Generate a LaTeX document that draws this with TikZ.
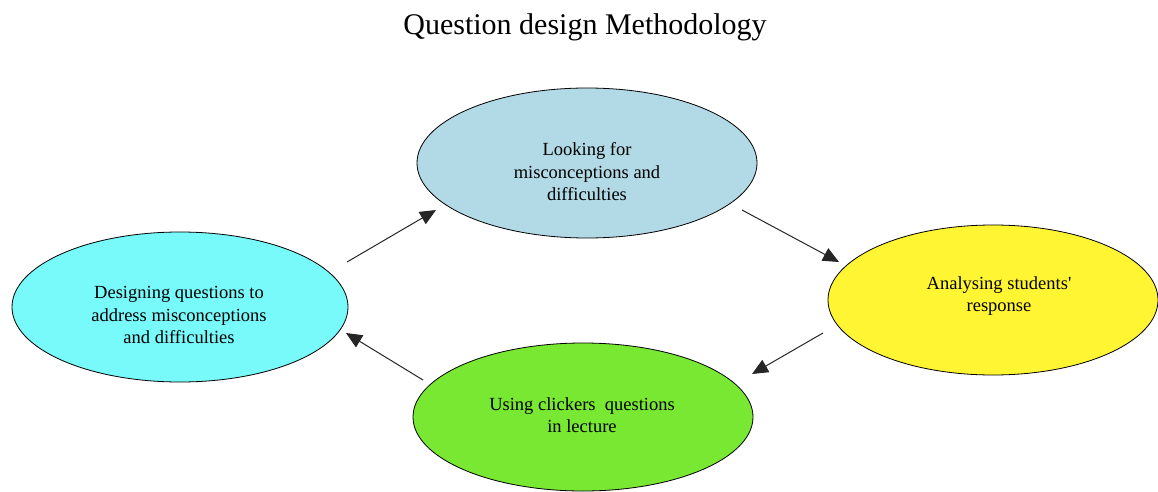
\documentclass[tikz,border=0pt]{standalone}
\usepackage{fontspec}
\setmainfont{Liberation Serif}
\usetikzlibrary{shapes.geometric,arrows.meta}
\definecolor{cLook}{RGB}{178,218,230}
\definecolor{cAnal}{RGB}{255,245,50}
\definecolor{cDes}{RGB}{120,250,250}
\definecolor{cUse}{RGB}{120,232,50}
\tikzset{
  blob/.style={ellipse, draw=black, line width=0.8pt, inner sep=0pt},
  lbl/.style={align=center, font=\fontsize{18.5}{22.5}\selectfont, text=black},
  arr/.style={draw=black!85, line width=1pt, -{Triangle[length=16pt,width=14pt]}},
}
\begin{document}
\begin{tikzpicture}[x=1pt,y=-1pt]
\useasboundingbox (0,0) rectangle (1158,492);
\node (title) at (585,27) {\fontsize{30}{34}\selectfont Question design Methodology};
\node[blob, fill=cLook, minimum width=340pt, minimum height=150pt] (look) at (587,163) {};
\node[blob, fill=cAnal, minimum width=330pt, minimum height=150pt] (anal) at (993,300) {};
\node[blob, fill=cDes, minimum width=336pt, minimum height=150pt] (des) at (180,307) {};
\node[blob, fill=cUse, minimum width=340pt, minimum height=148pt] (use) at (583,417) {};
\node[lbl] (looktxt) at (587,172) {Looking for\\misconceptions and\\difficulties};
\node[lbl] (analtxt) at (999,296) {Analysing students\textquotesingle\\response};
\node[lbl] (destxt) at (179,315) {Designing questions to\\address misconceptions\\and difficulties};
\node[lbl] (usetxt) at (582,415) {Using clickers\ \ questions\\in lecture};
\coordinate (a1s) at (347,262); \coordinate (a1e) at (436,210);
\coordinate (a2s) at (742,210); \coordinate (a2e) at (839,262);
\coordinate (a3s) at (823,333); \coordinate (a3e) at (752,374);
\coordinate (a4s) at (423,380); \coordinate (a4e) at (346,333);
\draw[arr] (a1s) -- (a1e);
\draw[arr] (a2s) -- (a2e);
\draw[arr] (a3s) -- (a3e);
\draw[arr] (a4s) -- (a4e);
\end{tikzpicture}
\end{document}
